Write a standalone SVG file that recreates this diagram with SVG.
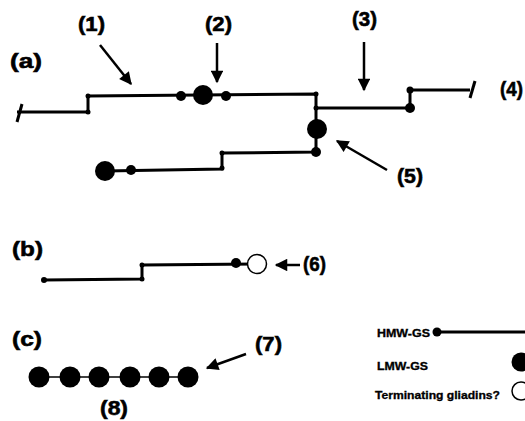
<svg xmlns="http://www.w3.org/2000/svg" width="525" height="421" viewBox="0 0 525 421">
<style>
.lbl{font-family:"Liberation Sans",Arial,sans-serif;font-weight:bold;font-size:21px;fill:#000;stroke:#000;stroke-width:0.6}
.leg{font-family:"Liberation Sans",Arial,sans-serif;font-weight:bold;font-size:10px;fill:#000;stroke:#000;stroke-width:0.3}
.ln{stroke:#000;stroke-width:3;fill:none}
.thin{stroke:#000;stroke-width:1.6;fill:none}
.arr{stroke:#000;stroke-width:2.5;fill:none;marker-end:url(#ah)}
.big{fill:#000}
.sm{fill:#000}
.open{fill:#fff;stroke:#000;stroke-width:1.5}
</style>
<defs>
<marker id="ah" viewBox="0 0 10 10" refX="9" refY="5" markerWidth="5.5" markerHeight="5" orient="auto" markerUnits="strokeWidth">
<path d="M0,0 L10,5 L0,10 z" fill="#000"/>
</marker>
</defs>
<rect width="525" height="421" fill="#fff"/>
<g id="connectors">
<polyline class="ln" points="17,112 88,112 88,96 316,94 316,108 410,108 410,90 470,90"/>
<line class="ln" x1="17" y1="122" x2="22" y2="104"/>
<line class="ln" x1="470" y1="98" x2="475" y2="81"/>
<polyline class="ln" points="316,108 316,152 222,153 222,169 105,171"/>
<polyline class="ln" points="44,280 142,279 142,265 257,264"/>
<line class="thin" x1="39" y1="377" x2="188" y2="377"/>
<line class="ln" x1="437" y1="332" x2="525" y2="332"/>
<line class="arr" x1="100" y1="45" x2="131" y2="84"/>
<line class="arr" x1="217" y1="43" x2="217" y2="82"/>
<line class="arr" x1="364" y1="42" x2="364" y2="90"/>
<line class="arr" x1="387" y1="170" x2="337" y2="141"/>
<line class="arr" x1="300" y1="265" x2="276" y2="265"/>
<line class="arr" x1="246" y1="354" x2="207" y2="368"/>
</g>
<g id="nodes-a">
<circle class="sm" cx="88" cy="112" r="2.5"/>
<circle class="sm" cx="88" cy="96" r="2.5"/>
<circle class="sm" cx="181" cy="96" r="5"/>
<circle class="big" cx="203" cy="95" r="10"/>
<circle class="sm" cx="226" cy="96" r="5"/>
<circle class="sm" cx="316" cy="94" r="2.5"/>
<circle class="sm" cx="316" cy="108" r="2.5"/>
<circle class="big" cx="317" cy="129" r="10"/>
<circle class="sm" cx="316" cy="152" r="5"/>
<circle class="sm" cx="410" cy="108" r="5"/>
<circle class="sm" cx="410" cy="90" r="3.5"/>
<circle class="sm" cx="222" cy="153" r="2.5"/>
<circle class="sm" cx="222" cy="168" r="2.5"/>
<circle class="sm" cx="131" cy="170" r="5"/>
<circle class="big" cx="105" cy="171" r="10"/>
</g>
<g id="nodes-b">
<circle class="sm" cx="44" cy="280" r="3"/>
<circle class="sm" cx="142" cy="279" r="2.5"/>
<circle class="sm" cx="142" cy="265" r="2.5"/>
<circle class="sm" cx="236" cy="263" r="5"/>
<circle class="open" cx="257" cy="264" r="9.5"/>
</g>
<g id="nodes-c">
<circle class="big" cx="39" cy="377" r="10.5"/>
<circle class="big" cx="70" cy="377" r="10.5"/>
<circle class="big" cx="99" cy="377" r="10.5"/>
<circle class="big" cx="130" cy="377" r="10.5"/>
<circle class="big" cx="159" cy="377" r="10.5"/>
<circle class="big" cx="188" cy="377" r="10.5"/>
</g>
<g id="legend">
<circle class="sm" cx="437" cy="332" r="4.5"/>
<circle class="big" cx="521" cy="362" r="9.5"/>
<circle class="open" cx="521" cy="391" r="9"/>
<text class="leg" x="377" y="337" textLength="53" lengthAdjust="spacingAndGlyphs">HMW-GS</text>
<text class="leg" x="377" y="370" textLength="51" lengthAdjust="spacingAndGlyphs">LMW-GS</text>
<text class="leg" x="375" y="399" textLength="125" lengthAdjust="spacingAndGlyphs">Terminating gliadins?</text>
</g>
<g id="labels">
<text class="lbl" x="10" y="68" textLength="32" lengthAdjust="spacingAndGlyphs">(a)</text>
<text class="lbl" x="12" y="256" textLength="31" lengthAdjust="spacingAndGlyphs">(b)</text>
<text class="lbl" x="12" y="346" textLength="30" lengthAdjust="spacingAndGlyphs">(c)</text>
<text class="lbl" x="78" y="31" textLength="27" lengthAdjust="spacingAndGlyphs">(1)</text>
<text class="lbl" x="205" y="31" textLength="27" lengthAdjust="spacingAndGlyphs">(2)</text>
<text class="lbl" x="352" y="26" textLength="25" lengthAdjust="spacingAndGlyphs">(3)</text>
<text class="lbl" x="500" y="96" textLength="23" lengthAdjust="spacingAndGlyphs">(4)</text>
<text class="lbl" x="397" y="183" textLength="26" lengthAdjust="spacingAndGlyphs">(5)</text>
<text class="lbl" x="303" y="271" textLength="23" lengthAdjust="spacingAndGlyphs">(6)</text>
<text class="lbl" x="255" y="351" textLength="27" lengthAdjust="spacingAndGlyphs">(7)</text>
<text class="lbl" x="100" y="415" textLength="28" lengthAdjust="spacingAndGlyphs">(8)</text>
</g>
</svg>
